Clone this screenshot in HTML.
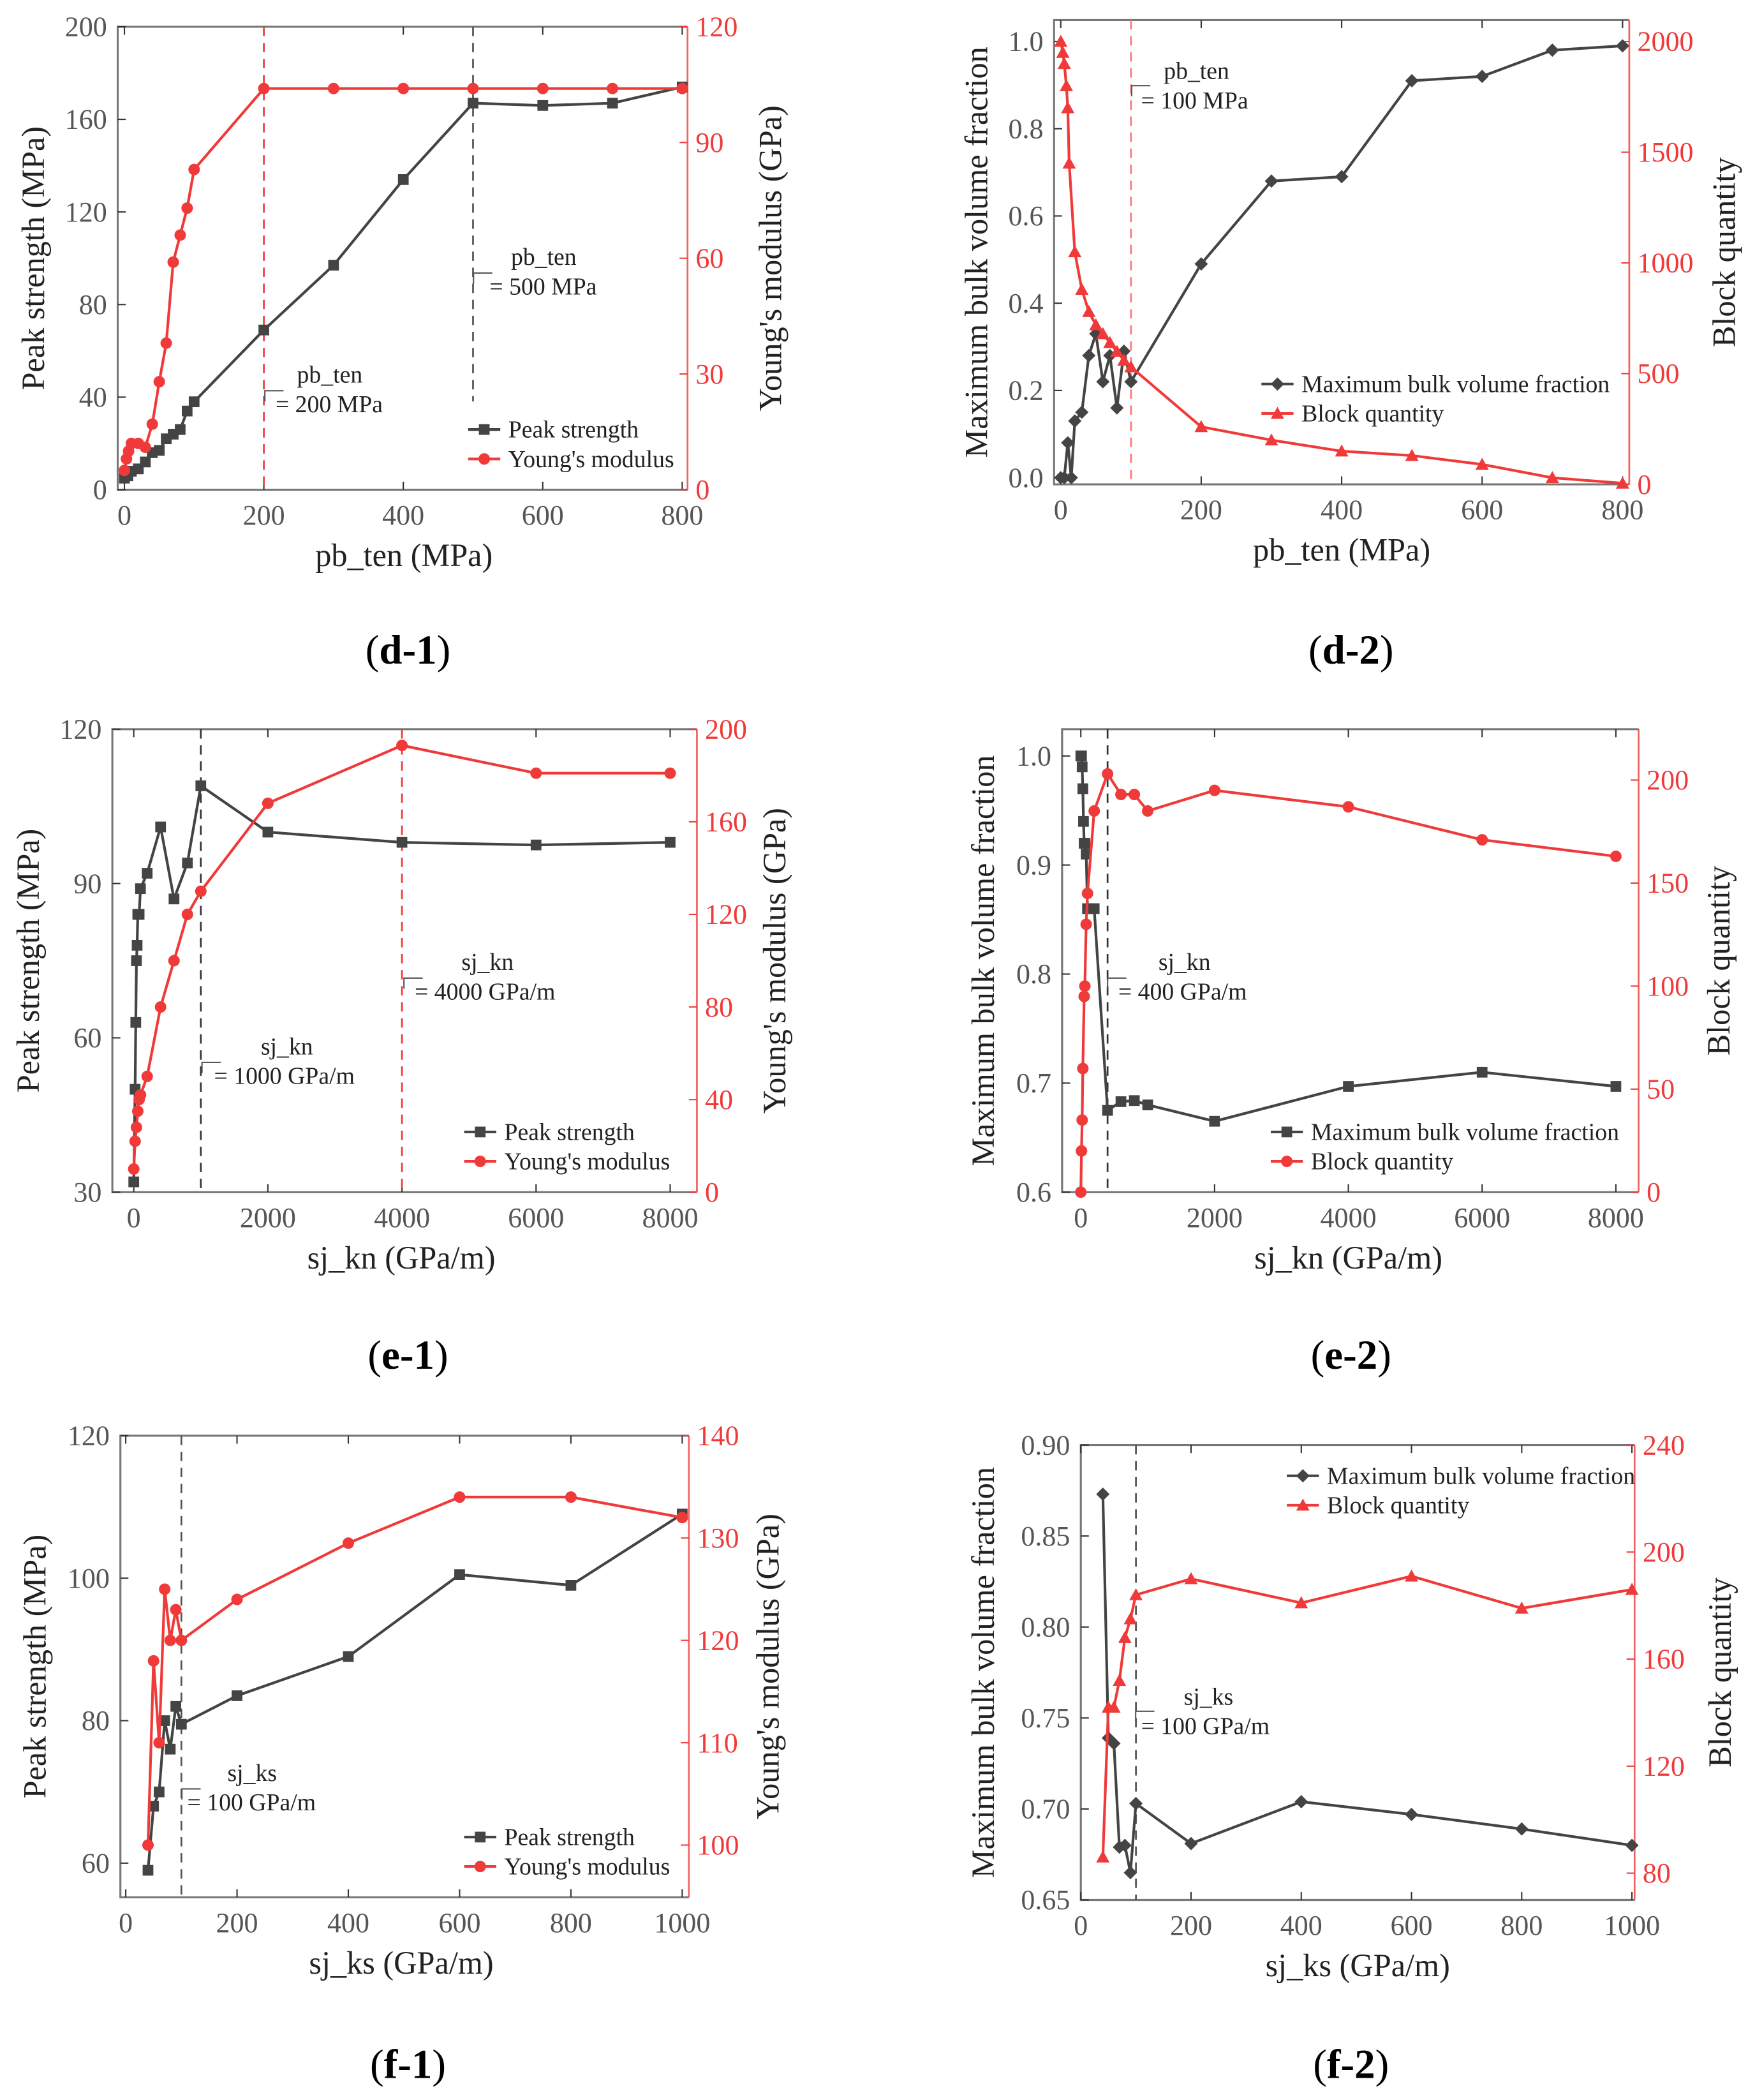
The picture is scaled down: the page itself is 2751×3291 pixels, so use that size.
<!DOCTYPE html>
<html><head><meta charset="utf-8"><style>
html,body{margin:0;padding:0;background:#fff;font-family:"Liberation Serif",serif}
svg{display:block}
svg text, svg tspan{font-family:"Liberation Serif",serif !important}
</style></head><body>
<svg id="fig" width="2751" height="3291" viewBox="0 0 1312 1569.5" xmlns="http://www.w3.org/2000/svg"></svg>
<script>
// ---- data (d-1)
const d1XA = [0,5,10,20,30,40,50,60,70,80,90,100,200,300,400,500,600,700,800];
const d1Peak = [5,6,8,9,12,16,17,22,24,26,34,38,69,97,134,167,166,167,174];
const d1XB = [0,3,6,10,20,30,40,50,60,70,80,90,100,200,300,400,500,600,700,800];
const d1Young = [5,8,10,12,12,11,17,28,38,59,66,73,83,104,104,104,104,104,104,104];
// ---- data (d-2)
const d2XA = [0,5,10,15,20,30,40,50,60,70,80,90,100,200,300,400,500,600,700,800];
const d2Bulk = [0,0,0.08,0.0,0.13,0.15,0.28,0.33,0.22,0.28,0.16,0.29,0.22,0.49,0.68,0.69,0.91,0.92,0.98,0.99];
const d2XB = [0,3,5,8,10,12,20,30,40,50,60,70,80,90,100,200,300,400,500,600,700,800];
const d2Block = [2000,1950,1900,1800,1700,1450,1050,880,780,720,680,640,600,560,530,260,200,150,130,90,30,5];
// ---- data (e-1)
const e1XA = [0,20,30,40,50,60,80,100,200,400,600,800,1000,2000,4000,6000,8000];
const e1Peak = [32,50,63,75,78,84,84,89,92,101,87,94,109,100,98,97.5,98];
const e1XB = [0,20,40,60,80,100,200,400,600,800,1000,2000,4000,6000,8000];
const e1Young = [10,22,28,35,40,42,50,80,100,120,130,168,193,181,181];
// ---- data (e-2)
const e2XA = [0,10,20,30,40,50,60,80,100,200,400,600,800,1000,2000,4000,6000,8000];
const e2Bulk = [1.0,1.0,0.99,0.97,0.94,0.92,0.92,0.91,0.86,0.86,0.675,0.683,0.684,0.68,0.665,0.697,0.71,0.697];
const e2XB = [0,10,20,30,50,60,80,100,200,400,600,800,1000,2000,4000,6000,8000];
const e2Block = [0,20,35,60,95,100,130,145,185,203,193,193,185,195,187,171,163];
// ---- data (f-1)
const f1X = [40,50,60,70,80,90,100,200,400,600,800,1000];
const f1Peak = [59,68,70,80,76,82,79.5,83.5,89,100.5,99,109];
const f1Young = [100,118,110,125,120,123,120,124,129.5,134,134,132];
// ---- data (f-2)
const f2X = [40,50,60,70,80,90,100,200,400,600,800,1000];
const f2Bulk = [0.873,0.739,0.736,0.679,0.68,0.665,0.703,0.681,0.704,0.697,0.689,0.68];
const f2Block = [86,142,142,152,168,175,184,190,181,191,179,186];
// ---- ticks
const d1XTicks=[0,200,400,600,800], d1LTicks=[0,40,80,120,160,200], d1RTicks=[0,30,60,90,120];
const d2XTicks=[0,200,400,600,800], d2LTicks=[0,0.2,0.4,0.6,0.8,1.0], d2RTicks=[0,500,1000,1500,2000];
const e1XTicks=[0,2000,4000,6000,8000], e1LTicks=[30,60,90,120], e1RTicks=[0,40,80,120,160,200];
const e2XTicks=[0,2000,4000,6000,8000], e2LTicks=[0.6,0.7,0.8,0.9,1.0], e2RTicks=[0,50,100,150,200];
const f1XTicks=[0,200,400,600,800,1000], f1LTicks=[60,80,100,120], f1RTicks=[100,110,120,130,140];
const f2XTicks=[0,200,400,600,800,1000], f2LTicks=[0.65,0.70,0.75,0.80,0.85,0.90], f2RTicks=[80,120,160,200,240];

const NS="http://www.w3.org/2000/svg";
const svg=document.getElementById('fig');
function mk(parent,tag,attrs,txt){const e=document.createElementNS(NS,tag);for(const k in attrs)e.setAttribute(k,attrs[k]);if(tag==='text'){e.setAttribute('font-family','Liberation Serif');e.style.fontFamily='"Liberation Serif", serif';}if(txt!==undefined)e.textContent=txt;parent.appendChild(e);return e;}
const RED="#f03a3a", BLK="#444", GRY="#555";

function panel(p){
  const g=mk(svg,'g',{});
  
  
  const X=v=>p.x0+(v-p.xd[0])/(p.xd[1]-p.xd[0])*(p.x1-p.x0);
  const YL=v=>p.yb-(v-p.ld[0])/(p.ld[1]-p.ld[0])*(p.yb-p.yt);
  const YR=v=>p.yb-(v-p.rd[0])/(p.rd[1]-p.rd[0])*(p.yb-p.yt);
  const fr=mk(g,'path',{d:`M${p.bx1} ${p.yt}H${p.bx0}V${p.yb}H${p.bx1}`,fill:'none',stroke:'#777','stroke-width':1.5});
  
  
  const ra=mk(g,'line',{x1:p.bx1,x2:p.bx1,y1:p.yt,y2:p.yb,stroke:RED,'stroke-width':1.3,opacity:0.8});
  
  
  p.xt.forEach(v=>{
    const t=mk(g,'text',{x:X(v),y:p.yb+26,'text-anchor':'middle','font-size':21,fill:GRY},String(v));
    
    
    mk(g,'line',{x1:X(v),x2:X(v),y1:p.yb,y2:p.yb-6,stroke:'#333'});
    mk(g,'line',{x1:X(v),x2:X(v),y1:p.yt,y2:p.yt+6,stroke:'#333'});
  });
  p.lt.forEach(v=>{
    const t=mk(g,'text',{x:p.bx0-8,y:YL(v)+7,'text-anchor':'end','font-size':21,fill:GRY},p.lf?v.toFixed(p.lf):String(v));
    
    
    mk(g,'line',{x1:p.bx0,x2:p.bx0+6,y1:YL(v),y2:YL(v),stroke:'#333'});
  });
  p.rt.forEach(v=>{
    const t=mk(g,'text',{x:p.bx1+6,y:YR(v)+7,'font-size':21,fill:RED},String(v));
    
    
    mk(g,'line',{x1:p.bx1,x2:p.bx1-6,y1:YR(v),y2:YR(v),stroke:RED});
  });
  let t=mk(g,'text',{x:p.xtx,y:p.yb+57,'text-anchor':'middle','font-size':24,fill:'#222'},p.xtitle);
  
  
  const cy=(p.yt+p.yb)/2;
  t=mk(g,'text',{x:p.ltx,y:cy,'text-anchor':'middle','font-size':24,fill:'#222',transform:`rotate(-90 ${p.ltx} ${cy})`},p.ltitle);
  
  
  t=mk(g,'text',{x:p.rtx,y:cy,'text-anchor':'middle','font-size':24,fill:'#222',transform:`rotate(-90 ${p.rtx} ${cy})`},p.rtitle);
  
  
  p.dash.forEach(d=>{
    const l=mk(g,'line',{x1:X(d.v),x2:X(d.v),y1:p.yt,y2:d.y2||p.yb,stroke:d.c,'stroke-width':1.3,'stroke-dasharray':'7 5'});
    
    
  });
  p.ann.forEach(a=>{
    const b=mk(g,'path',{d:`M${a.bx+14} ${a.by}H${a.bx}V${a.by+8}`,fill:'none',stroke:'#555','stroke-width':1});
    
    
    let tt=mk(g,'text',{x:a.x1,y:a.y,'font-size':18,fill:'#222'},a.l1);
    
    
    tt=mk(g,'text',{x:a.x2,y:a.y+22,'font-size':18,fill:'#222'},a.l2);
    
    
  });
  function marker(gg,x,y,shape,c){
    let m;
    if(shape==='sq') m=mk(gg,'rect',{x:x-4,y:y-4,width:8,height:8,fill:c});
    else if(shape==='ci') m=mk(gg,'circle',{cx:x,cy:y,r:4.3,fill:c});
    else if(shape==='di') m=mk(gg,'path',{d:`M${x} ${y-5}L${x+5} ${y}L${x} ${y+5}L${x-5} ${y}Z`,fill:c});
    else m=mk(gg,'path',{d:`M${x} ${y-5}L${x+5} ${y+4}L${x-5} ${y+4}Z`,fill:c});
    
    
  }
  function series(xs,ys,Y,c,shape,name){
    const gg=mk(g,'g',{});
    
    
    const pts=xs.map((x,i)=>X(x)+','+Y(ys[i])).join(' ');
    const pl=mk(gg,'polyline',{points:pts,fill:'none',stroke:c,'stroke-width':2});
    
    
    xs.forEach((x,i)=>marker(gg,X(x),Y(ys[i]),shape,c));
  }
  series(p.s1x,p.s1y,YL,BLK,p.m1,'black-series');
  series(p.s2x,p.s2y,YR,RED,p.m2,'red-series');
  [[p.l1,BLK,p.m1],[p.l2,RED,p.m2]].forEach((L,i)=>{
    const y=p.lgy+i*22;
    const lg=mk(g,'g',{});
    
    
    mk(lg,'line',{x1:p.lgx,x2:p.lgx+24,y1:y,y2:y,stroke:L[1],'stroke-width':2});
    marker(lg,p.lgx+12,y,L[2],L[1]);
    const tx=mk(lg,'text',{x:p.lgx+30,y:y+6,'font-size':18,fill:'#222'},L[0]);
    
    
  });
  const cap=mk(g,'text',{x:p.cap[0],y:p.cap[1],'text-anchor':'middle','font-size':31,fill:'#000'});
  
  
  mk(cap,'tspan',{},'(');
  mk(cap,'tspan',{'font-weight':'bold'},p.id);
  mk(cap,'tspan',{},')');
}

panel({id:'d-1',bx0:88,bx1:514,x0:93,x1:510,xd:[0,800],yt:20,yb:366,ld:[0,200],rd:[0,120],
 xt:d1XTicks,lt:d1LTicks,rt:d1RTicks,xtitle:'pb_ten (MPa)',xtx:302,ltitle:'Peak strength (MPa)',ltx:33,rtitle:"Young's modulus (GPa)",rtx:584,
 s1x:d1XA,s1y:d1Peak,s2x:d1XB,s2y:d1Young,m1:'sq',m2:'ci',l1:'Peak strength',l2:"Young's modulus",lgx:350,lgy:321,
 dash:[{v:200,c:RED},{v:500,c:'#555',y2:300}],
 ann:[{bx:354,by:204,x1:382,x2:366,y:198,l1:'pb_ten',l2:'= 500 MPa'},{bx:198,by:292,x1:222,x2:206,y:286,l1:'pb_ten',l2:'= 200 MPa'}],cap:[305,496]});
panel({id:'d-2',bx0:788,bx1:1218,x0:793,x1:1213,xd:[0,800],yt:15,yb:362,ld:[-0.0153,1.049],rd:[0,2000*347/331],
 xt:d2XTicks,lt:d2LTicks,lf:1,rt:d2RTicks,xtitle:'pb_ten (MPa)',xtx:1003,ltitle:'Maximum bulk volume fraction',ltx:738,rtitle:'Block quantity',rtx:1297,
 s1x:d2XA,s1y:d2Bulk,s2x:d2XB,s2y:d2Block,m1:'di',m2:'tr',l1:'Maximum bulk volume fraction',l2:'Block quantity',lgx:943,lgy:287,
 dash:[{v:100,c:'#f77'}],
 ann:[{bx:846,by:64,x1:870,x2:853,y:59,l1:'pb_ten',l2:'= 100 MPa'}],cap:[1010,496]});
panel({id:'e-1',bx0:84,bx1:521,x0:100,x1:501,xd:[0,8000],yt:545,yb:891,ld:[30,120],rd:[0,200],
 xt:e1XTicks,lt:e1LTicks,rt:e1RTicks,xtitle:'sj_kn (GPa/m)',xtx:300,ltitle:'Peak strength (MPa)',ltx:29,rtitle:"Young's modulus (GPa)",rtx:587,
 s1x:e1XA,s1y:e1Peak,s2x:e1XB,s2y:e1Young,m1:'sq',m2:'ci',l1:'Peak strength',l2:"Young's modulus",lgx:347,lgy:846,
 dash:[{v:1000,c:'#333'},{v:4000,c:RED}],
 ann:[{bx:151,by:794,x1:195,x2:160,y:788,l1:'sj_kn',l2:'= 1000 GPa/m'},{bx:302,by:731,x1:345,x2:310,y:725,l1:'sj_kn',l2:'= 4000 GPa/m'}],cap:[305,1023]});
panel({id:'e-2',bx0:794,bx1:1225,x0:808,x1:1208,xd:[0,8000],yt:545,yb:891,ld:[0.6,0.6+346/815],rd:[0,50*346/77],
 xt:e2XTicks,lt:e2LTicks,lf:1,rt:e2RTicks,xtitle:'sj_kn (GPa/m)',xtx:1008,ltitle:'Maximum bulk volume fraction',ltx:743,rtitle:'Block quantity',rtx:1293,
 s1x:e2XA,s1y:e2Bulk,s2x:e2XB,s2y:e2Block,m1:'sq',m2:'ci',l1:'Maximum bulk volume fraction',l2:'Block quantity',lgx:950,lgy:846,
 dash:[{v:400,c:'#333'}],
 ann:[{bx:828,by:731,x1:866,x2:836,y:725,l1:'sj_kn',l2:'= 400 GPa/m'}],cap:[1010,1023]});
panel({id:'f-1',bx0:90,bx1:515,x0:94,x1:510,xd:[0,1000],yt:1073,yb:1418,ld:[120-345/5.325,120],rd:[140-345/7.65,140],
 xt:f1XTicks,lt:f1LTicks,rt:f1RTicks,xtitle:'sj_ks (GPa/m)',xtx:300,ltitle:'Peak strength (MPa)',ltx:34,rtitle:"Young's modulus (GPa)",rtx:582,
 s1x:f1X,s1y:f1Peak,s2x:f1X,s2y:f1Young,m1:'sq',m2:'ci',l1:'Peak strength',l2:"Young's modulus",lgx:347,lgy:1373,
 dash:[{v:100,c:'#555'}],
 ann:[{bx:136,by:1337,x1:170,x2:140,y:1331,l1:'sj_ks',l2:'= 100 GPa/m'}],cap:[305,1553]});
panel({id:'f-2',bx0:808,bx1:1222,x0:808,x1:1220,xd:[0,1000],yt:1080,yb:1420,ld:[0.65,0.90],rd:[70,240],
 xt:f2XTicks,lt:f2LTicks,lf:2,rt:f2RTicks,xtitle:'sj_ks (GPa/m)',xtx:1015,ltitle:'Maximum bulk volume fraction',ltx:743,rtitle:'Block quantity',rtx:1294,
 s1x:f2X,s1y:f2Bulk,s2x:f2X,s2y:f2Block,m1:'di',m2:'tr',l1:'Maximum bulk volume fraction',l2:'Block quantity',lgx:962,lgy:1103,
 dash:[{v:100,c:'#555'}],
 ann:[{bx:849,by:1279,x1:885,x2:853,y:1274,l1:'sj_ks',l2:'= 100 GPa/m'}],cap:[1010,1553]});
</script>
</body></html>
